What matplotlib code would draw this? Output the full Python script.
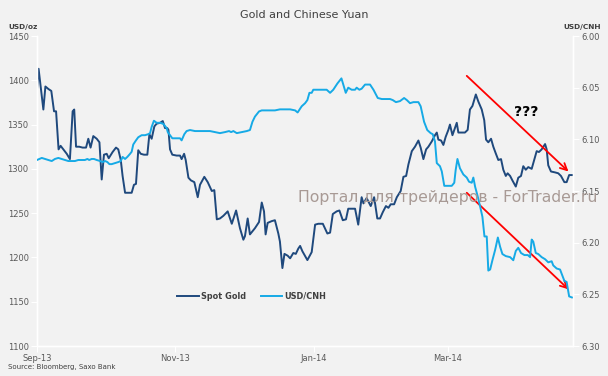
import matplotlib
matplotlib.use("Agg")
import matplotlib.pyplot as plt
import pandas as pd

# ---------------- data ----------------
start_date = "2013-09-01"

gold_days = [0, 0.7, 1.6, 2.8, 3.7, 5.1, 6.3, 7.5, 8.4, 9.5, 10.4, 11.6, 13.1, 14.5, 15.7, 16.4,
             17.2, 18.6, 20.1, 21.6, 22.6, 23.6, 24.8, 26.3, 27.5, 28.5, 29.5, 30.7, 31.6, 33.3,
             34.8, 35.8, 36.9, 37.7, 38.8, 40.4, 41.7, 42.7, 43.6, 44.6, 45.7, 47.1, 48.6, 49.5,
             50.5, 51.7, 52.7, 54.2, 55.4, 56.4, 57.4, 57.9, 58.6, 59.6, 61.5, 63.0, 63.7, 64.8,
             65.5, 66.7, 67.8, 69.3, 70.8, 71.8, 73.7, 75.2, 77.0, 78.1, 79.2, 80.6, 82.1, 84.0,
             85.8, 87.7, 89.4, 90.9, 91.6, 92.8, 93.8, 96.0, 97.8, 99.0, 100.0, 100.7, 101.6,
             103.4, 104.8, 106.3, 107.0, 108.1, 109.0, 110.4, 111.5, 112.9, 114.0, 115.1, 115.9,
             116.9, 119.1, 121.0, 122.5, 123.9, 125.9, 127.9, 129.1, 130.3, 132.0, 133.2, 134.7,
             136.1, 137.1, 138.6, 140.1, 141.5, 143.0, 143.8, 145.2, 147.0, 148.5, 149.9, 151.1,
             152.3, 153.7, 154.8, 155.8, 157.3, 158.5, 160.2, 161.4, 162.6, 163.6, 165.1, 166.5,
             168.0, 169.0, 170.2, 171.4, 172.4, 173.9, 175.3, 176.1, 176.8, 178.0, 179.0, 180.0,
             181.2, 181.9, 183.0, 183.8, 184.9, 185.6, 187.1, 188.5, 189.7, 190.7, 191.8, 193.3,
             194.4, 195.9, 197.0, 197.8, 198.8, 200.0, 201.0, 202.0, 203.2, 204.4, 205.4, 206.5,
             207.3, 208.4, 209.4, 210.9, 212.0, 213.2, 214.2, 215.3, 216.4, 217.9, 219.0, 220.1,
             221.1, 222.3, 223.8, 224.5, 225.2, 226.4, 228.2, 229.6, 230.8, 232.3, 233.3, 234.4,
             235.6]
gold_values = [1390, 1413, 1393, 1367, 1393, 1390, 1388, 1365, 1365, 1322, 1326, 1322, 1317, 1311,
               1365, 1367, 1325, 1325, 1324, 1324, 1334, 1324, 1337, 1334, 1330, 1288, 1316, 1317,
               1312, 1319, 1324, 1322, 1310, 1292, 1273, 1273, 1273, 1282, 1283, 1321, 1317, 1316,
               1316, 1339, 1334, 1348, 1351, 1352, 1354, 1346, 1346, 1344, 1322, 1316, 1315, 1315,
               1311, 1317, 1310, 1290, 1287, 1285, 1268, 1282, 1291, 1285, 1275, 1276, 1243, 1244,
               1247, 1252, 1238, 1253, 1233, 1220, 1224, 1244, 1226, 1233, 1240, 1262, 1252, 1226,
               1239, 1241, 1242, 1227, 1218, 1188, 1204, 1202, 1199, 1205, 1204, 1210, 1213, 1207,
               1197, 1206, 1237, 1238, 1238, 1227, 1228, 1249, 1252, 1253, 1242, 1243, 1255, 1255,
               1255, 1237, 1268, 1261, 1267, 1258, 1268, 1244, 1244, 1251, 1258, 1256, 1260, 1260,
               1268, 1275, 1291, 1292, 1305, 1320, 1325, 1332, 1324, 1311, 1322, 1325, 1331, 1338,
               1341, 1333, 1332, 1327, 1336, 1344, 1350, 1338, 1344, 1352, 1341, 1341, 1341, 1344,
               1367, 1371, 1384, 1376, 1367, 1355, 1333, 1330, 1334, 1325, 1318, 1310, 1311, 1299,
               1292, 1295, 1292, 1287, 1280, 1290, 1292, 1303, 1299, 1302, 1300, 1310, 1320, 1319,
               1322, 1328, 1322, 1304, 1297, 1296, 1295, 1292, 1285, 1285, 1293, 1293]

cnh_days = [0, 2.1, 3.5, 5.0, 6.5, 7.9, 9.4, 10.9, 12.3, 13.8, 15.3, 16.7, 18.2, 19.7, 21.1, 22.2,
            23.0, 24.1, 25.1, 26.3, 27.8, 28.9, 30.0, 31.0, 31.9, 32.9, 34.4, 35.8, 36.9, 37.7,
            38.8, 39.8, 41.0, 41.7, 42.4, 43.6, 44.6, 46.1, 47.6, 49.0, 49.8, 50.5, 51.5, 52.7,
            54.2, 55.6, 57.1, 57.6, 58.6, 59.6, 61.5, 63.0, 63.7, 64.9, 65.9, 67.4, 69.6, 71.8,
            74.0, 76.2, 78.4, 80.6, 82.8, 84.6, 85.5, 86.5, 88.0, 90.2, 92.4, 93.8, 94.9, 96.0,
            97.8, 99.0, 100.4, 102.6, 104.8, 107.0, 109.3, 111.5, 113.7, 114.8, 116.6, 118.1,
            119.1, 120.0, 121.0, 121.7, 123.2, 124.7, 126.4, 127.6, 129.1, 130.5, 132.3, 134.1,
            134.9, 136.0, 137.1, 138.6, 140.1, 140.8, 142.0, 143.0, 144.5, 146.7, 148.2, 150.1,
            151.9, 153.3, 154.3, 155.5, 156.7, 158.1, 159.9, 161.7, 162.9, 164.3, 165.8, 168.0,
            169.0, 170.5, 171.9, 173.4, 174.3, 175.3, 176.1, 177.5, 178.3, 179.4, 181.2, 182.7,
            183.8, 184.4, 185.2, 186.3, 187.8, 189.3, 190.3, 191.5, 192.2, 193.0, 194.1, 195.2,
            196.2, 197.1, 198.1, 198.8, 199.6, 200.6, 201.8, 203.0, 204.0, 205.0, 206.5, 208.4,
            209.8, 210.9, 212.0, 213.2, 214.7, 216.2, 217.2, 217.9, 218.6, 219.7, 220.8, 222.3,
            223.8, 225.2, 226.7, 227.4, 228.9, 230.4, 231.1, 232.3, 233.3, 234.4, 235.6]
cnh_values = [6.120, 6.118, 6.119, 6.120, 6.121, 6.119, 6.118, 6.119, 6.120, 6.121, 6.121, 6.121,
              6.120, 6.120, 6.120, 6.119, 6.120, 6.119, 6.119, 6.120, 6.121, 6.122, 6.121, 6.122,
              6.124, 6.124, 6.123, 6.122, 6.121, 6.117, 6.119, 6.117, 6.114, 6.112, 6.105, 6.101,
              6.098, 6.096, 6.096, 6.095, 6.094, 6.088, 6.082, 6.084, 6.084, 6.085, 6.089, 6.093,
              6.096, 6.099, 6.099, 6.099, 6.101, 6.095, 6.092, 6.091, 6.092, 6.092, 6.092, 6.092,
              6.093, 6.094, 6.093, 6.092, 6.093, 6.092, 6.094, 6.093, 6.092, 6.091, 6.083, 6.078,
              6.073, 6.072, 6.072, 6.072, 6.072, 6.071, 6.071, 6.071, 6.072, 6.074, 6.068, 6.065,
              6.062, 6.055, 6.055, 6.052, 6.052, 6.052, 6.052, 6.052, 6.055, 6.052, 6.046, 6.041,
              6.047, 6.055, 6.050, 6.052, 6.052, 6.050, 6.052, 6.051, 6.047, 6.047, 6.052, 6.060,
              6.061, 6.061, 6.061, 6.061, 6.062, 6.064, 6.063, 6.060, 6.062, 6.065, 6.064, 6.064,
              6.068, 6.083, 6.091, 6.094, 6.095, 6.102, 6.123, 6.126, 6.131, 6.145, 6.145, 6.145,
              6.142, 6.130, 6.119, 6.128, 6.134, 6.137, 6.141, 6.142, 6.137, 6.146, 6.155, 6.165,
              6.175, 6.194, 6.194, 6.227, 6.226, 6.217, 6.207, 6.195, 6.204, 6.211, 6.213, 6.214,
              6.217, 6.208, 6.205, 6.210, 6.212, 6.212, 6.214, 6.197, 6.199, 6.210, 6.211, 6.214,
              6.216, 6.219, 6.218, 6.222, 6.225, 6.226, 6.230, 6.237, 6.238, 6.252, 6.253]

tick_dates = ["2013-09-01", "2013-11-01", "2014-01-01", "2014-03-01"]
tick_labels = ["Sep-13", "Nov-13", "Jan-14", "Mar-14"]
gold_ticks = [1100, 1150, 1200, 1250, 1300, 1350, 1400, 1450]
cnh_ticks = [6.00, 6.05, 6.10, 6.15, 6.20, 6.25, 6.30]

# annotation arrows (day offset, gold-axis value)
arrow_start_days = [189.3, 189.3]
arrow_start_vals = [1405, 1273]
arrow_end_days = [234.1, 234.1]
arrow_end_vals = [1297, 1164]
question_day, question_val = 215.4, 1364

# ---------------- plot ----------------
t0 = pd.Timestamp(start_date)
to_dates = lambda d: t0 + pd.to_timedelta(pd.Series(d), unit="D")

BG = "#f2f2f2"
GOLD_C = "#1f497d"
CNH_C = "#16aae6"
TXT = "#595959"

fig = plt.figure(figsize=(6.08, 3.76), dpi=100, facecolor=BG)
ax = fig.add_axes([37 / 608, 1 - 346 / 376, 536 / 608, 310 / 376])
ax.set_facecolor(BG)
ax2 = ax.twinx()
ax2.patch.set_visible(False)

l1, = ax.plot(to_dates(gold_days), gold_values, color=GOLD_C, lw=1.4, label="Spot Gold", zorder=3)
l2, = ax2.plot(to_dates(cnh_days), cnh_values, color=CNH_C, lw=1.4, label="USD/CNH", zorder=3)

ax.set_xlim(t0, t0 + pd.Timedelta(days=236.1))
ax.set_ylim(1100, 1450)
ax2.set_ylim(6.30, 6.00)

ax.set_yticks(gold_ticks)
ax.set_yticklabels([str(v) for v in gold_ticks])
ax2.set_yticks(cnh_ticks)
ax2.set_yticklabels([f"{v:.2f}" for v in cnh_ticks])
ax.set_xticks(pd.to_datetime(tick_dates))
ax.set_xticklabels(tick_labels)

for a in (ax, ax2):
    for s in a.spines.values():
        s.set_color("white")
        s.set_linewidth(1.0)
    a.spines["top"].set_visible(False)
    a.tick_params(colors="white", labelcolor=TXT, labelsize=6, length=4, width=0.8)
ax.tick_params(axis="y", pad=2)
ax2.tick_params(axis="y", pad=2)
ax.tick_params(axis="x", pad=2)

# arrows
for sd, sv, ed, ev in zip(arrow_start_days, arrow_start_vals, arrow_end_days, arrow_end_vals):
    ax.annotate("", xy=(t0 + pd.Timedelta(days=ed), ev), xytext=(t0 + pd.Timedelta(days=sd), sv),
                arrowprops=dict(arrowstyle="->", color="#ff0000", lw=1.3, mutation_scale=12,
                                shrinkA=0, shrinkB=0), zorder=5)
ax.text(t0 + pd.Timedelta(days=question_day), question_val, "???", fontsize=10, fontweight="bold",
        color="black", ha="center", va="center", zorder=6)

leg = ax2.legend(handles=[l1, l2], loc="center", bbox_to_anchor=(0.401, 0.161), ncol=2,
                 frameon=False, prop=dict(size=5.9, weight="bold"), handlelength=2.6,
                 handletextpad=0.3, columnspacing=1.8)
for t in leg.get_texts():
    t.set_color("#404040")

fig.text(304 / 608, 1 - 15.5 / 376, "Gold and Chinese Yuan", fontsize=8, color="#404040",
         ha="center", va="center")
fig.text(8 / 608, 1 - 27 / 376, "USD/oz", fontsize=5.3, fontweight="bold", color="#404040",
         ha="left", va="center")
fig.text(601 / 608, 1 - 27 / 376, "USD/CNH", fontsize=5.3, fontweight="bold", color="#404040",
         ha="right", va="center")
fig.text(8 / 608, 1 - 367 / 376, "Source: Bloomberg, Saxo Bank", fontsize=5, color="#404040",
         ha="left", va="center")
fig.text(597 / 608, 1 - 198 / 376, "Портал для трейдеров - ForTrader.ru", fontsize=11.3,
         color="#a89a95", ha="right", va="center", zorder=10)

fig.savefig("out.png", dpi=100, facecolor=BG)
